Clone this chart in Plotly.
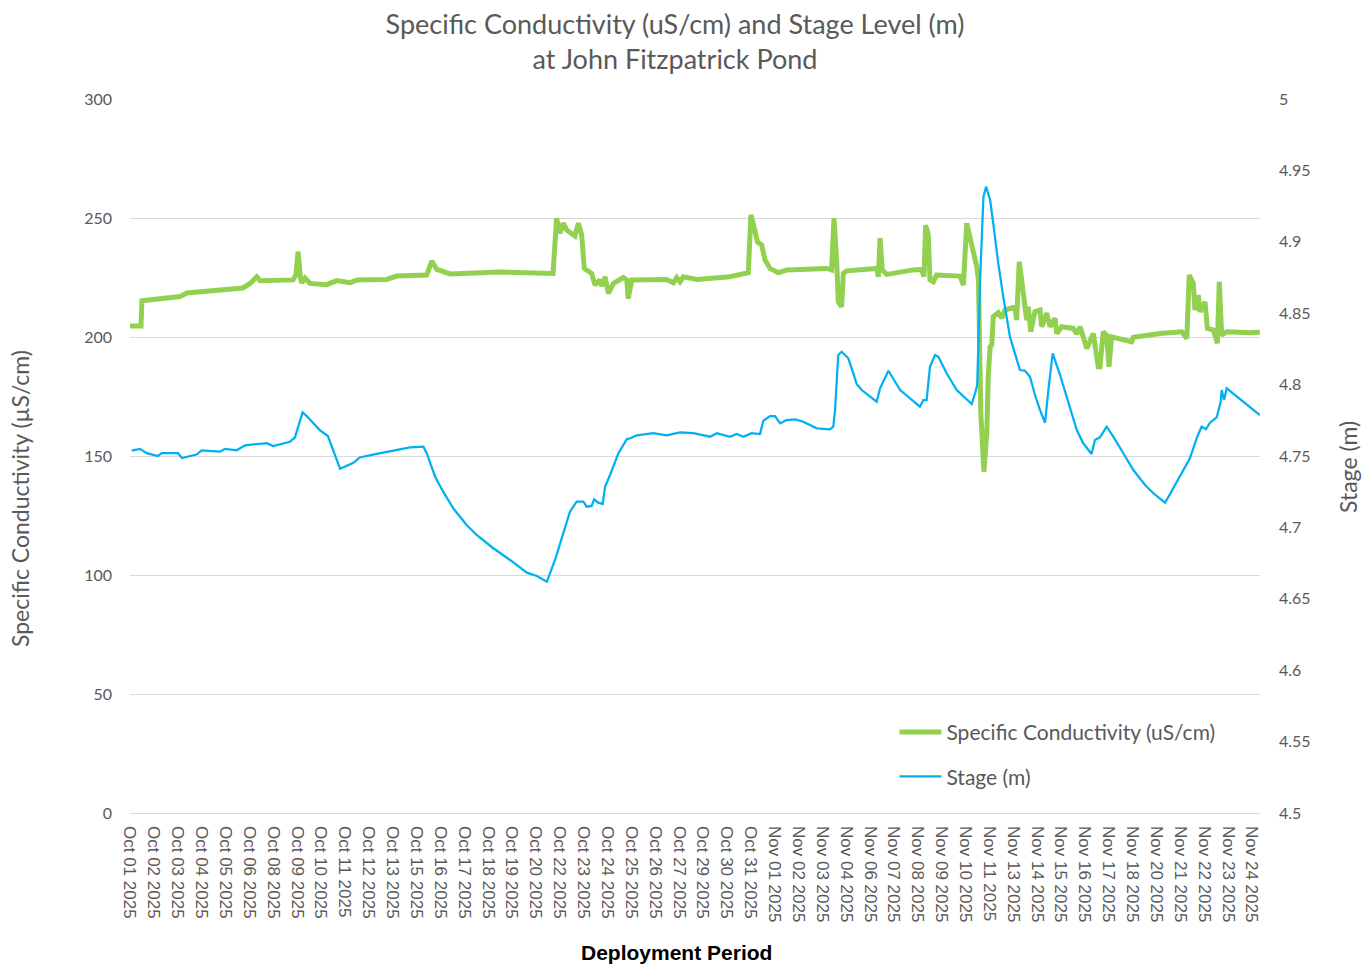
import plotly.graph_objects as go

# X tick labels (one per category tick position 0..47)
tick_labels = [
    "Oct 01 2025", "Oct 02 2025", "Oct 03 2025", "Oct 04 2025", "Oct 05 2025", "Oct 06 2025",
    "Oct 08 2025", "Oct 09 2025", "Oct 10 2025", "Oct 11 2025", "Oct 12 2025", "Oct 13 2025",
    "Oct 15 2025", "Oct 16 2025", "Oct 17 2025", "Oct 18 2025", "Oct 19 2025", "Oct 20 2025",
    "Oct 22 2025", "Oct 23 2025", "Oct 24 2025", "Oct 25 2025", "Oct 26 2025", "Oct 27 2025",
    "Oct 29 2025", "Oct 30 2025", "Oct 31 2025", "Nov 01 2025", "Nov 02 2025", "Nov 03 2025",
    "Nov 04 2025", "Nov 06 2025", "Nov 07 2025", "Nov 08 2025", "Nov 09 2025", "Nov 10 2025",
    "Nov 11 2025", "Nov 13 2025", "Nov 14 2025", "Nov 15 2025", "Nov 16 2025", "Nov 17 2025",
    "Nov 18 2025", "Nov 20 2025", "Nov 21 2025", "Nov 22 2025", "Nov 23 2025", "Nov 24 2025",
]
tick_pos = list(range(len(tick_labels)))

# Specific conductivity (uS/cm): position (in tick-label steps) and value
sc_t = [0.0, 0.46, 0.50, 1.26, 2.09, 2.38, 2.93, 4.73, 5.03, 5.31, 5.45, 6.83, 6.95, 7.04, 7.14,
        7.19, 7.33, 7.54, 8.24, 8.66, 9.22, 9.50, 10.75, 11.17, 12.43, 12.64, 12.85, 13.41, 15.50,
        17.59, 17.72, 17.87, 18.01, 18.15, 18.29, 18.64, 18.78, 18.92, 19.03, 19.34, 19.48, 19.69,
        19.76, 19.90, 20.04, 20.25, 20.66, 20.81, 20.87, 21.02, 22.48, 22.76, 22.90, 23.04, 23.18,
        23.74, 25.13, 25.90, 26.01, 26.14, 26.28, 26.46, 26.60, 26.81, 27.16, 27.51, 29.18, 29.39,
        29.49, 29.60, 29.67, 29.81, 29.88, 30.02, 31.28, 31.35, 31.42, 31.51, 31.70, 32.81, 33.16,
        33.26, 33.33, 33.44, 33.51, 33.65, 33.79, 34.77, 34.91, 35.05, 35.16, 35.26, 35.36, 35.47,
        35.54, 35.64, 35.77, 35.89, 35.95, 36.03, 36.10, 36.16, 36.37, 36.52, 36.65, 37.07, 37.14,
        37.25, 37.35, 37.49, 37.56, 37.63, 37.73, 37.91, 38.12, 38.19, 38.40, 38.54, 38.75, 38.82,
        39.03, 39.51, 39.66, 39.80, 40.08, 40.35, 40.56, 40.63, 40.77, 40.91, 41.01, 41.12, 41.47,
        41.96, 42.03, 43.15, 44.06, 44.27, 44.37, 44.54, 44.61, 44.75, 44.82, 45.03, 45.13, 45.38,
        45.55, 45.63, 45.73, 45.94, 46.92, 47.33]
sc_val = [204.6, 204.6, 215.2, 216.0, 217.0, 218.5, 219.0, 220.6, 222.5, 225.3, 223.6, 224.0, 226.0,
          235.8, 225.0, 222.7, 224.8, 222.5, 222.0, 223.7, 222.8, 224.0, 224.2, 225.6, 226.0, 231.9,
          228.4, 226.5, 227.3, 227.0, 226.7, 249.9, 243.6, 247.8, 245.0, 242.4, 247.8, 242.9, 228.8,
          226.7, 221.8, 224.0, 221.4, 225.3, 218.3, 222.5, 225.0, 224.0, 216.2, 224.0, 224.2, 222.8,
          225.0, 223.2, 225.3, 224.2, 225.3, 227.0, 251.3, 246.3, 240.0, 238.7, 232.4, 228.8, 227.0,
          228.2, 228.8, 228.2, 249.9, 232.4, 214.8, 212.7, 226.7, 227.8, 228.8, 225.3, 241.5, 228.2,
          226.3, 228.2, 228.4, 225.3, 247.0, 242.9, 224.0, 223.2, 226.0, 225.6, 221.8, 247.8, 242.9,
          240.8, 235.2, 229.5, 224.0, 168.0, 143.4, 159.5, 183.3, 195.9, 196.6, 208.5, 210.2, 207.9,
          211.3, 212.7, 207.1, 231.6, 224.0, 212.7, 207.1, 212.7, 202.2, 210.6, 211.3, 204.3, 210.0,
          204.3, 207.9, 201.5, 204.3, 203.6, 201.3, 204.3, 195.2, 201.5, 187.5, 187.5, 202.2, 200.8,
          187.5, 200.1, 199.4, 198.0, 199.9, 201.5, 202.2, 199.4, 226.0, 222.5, 211.3, 217.6, 210.6,
          214.8, 203.6, 202.9, 197.4, 223.2, 200.8, 202.2, 201.8, 202.0]

# Stage (m): position (in tick-label steps) and value
stage_t = [0.07, 0.42, 0.70, 1.17, 1.33, 2.01, 2.17, 2.79, 3.00, 3.77, 3.98, 4.47, 4.82, 5.73, 5.99,
           6.70, 6.91, 7.23, 7.46, 7.96, 8.29, 8.80, 9.34, 9.63, 10.18, 10.75, 11.73, 12.29, 12.43,
           12.78, 13.12, 13.54, 14.10, 14.52, 15.22, 15.92, 16.62, 17.04, 17.46, 17.80, 18.15, 18.43,
           18.71, 18.99, 19.13, 19.34, 19.44, 19.62, 19.80, 19.90, 20.11, 20.46, 20.81, 20.95, 21.23,
           21.92, 22.48, 23.04, 23.60, 24.30, 24.58, 25.13, 25.41, 25.69, 26.04, 26.39, 26.53, 26.81,
           27.02, 27.23, 27.51, 27.86, 28.20, 28.77, 29.32, 29.46, 29.53, 29.67, 29.81, 30.09, 30.30,
           30.44, 30.65, 31.28, 31.42, 31.77, 32.26, 32.67, 33.09, 33.23, 33.37, 33.51, 33.72, 33.86,
           34.21, 34.63, 35.05, 35.26, 35.40, 35.49, 35.61, 35.75, 35.86, 36.03, 36.16, 36.37, 36.58,
           36.86, 37.28, 37.49, 37.70, 37.91, 38.12, 38.33, 38.47, 38.65, 38.96, 39.24, 39.66, 39.93,
           40.28, 40.42, 40.63, 40.91, 41.19, 41.61, 42.03, 42.52, 42.87, 43.36, 43.85, 44.40, 44.68,
           44.89, 45.07, 45.24, 45.52, 45.69, 45.73, 45.83, 45.94, 46.64, 47.33]
stage_val = [4.7537, 4.7550, 4.7520, 4.7500, 4.7520, 4.7520, 4.7486, 4.7510, 4.7540, 4.7530, 4.7550,
             4.7540, 4.7575, 4.7590, 4.7570, 4.7600, 4.7630, 4.7806, 4.7770, 4.7680, 4.7640, 4.7410,
             4.7450, 4.7490, 4.7510, 4.7530, 4.7560, 4.7565, 4.7520, 4.7355, 4.7250, 4.7134, 4.7017,
             4.6947, 4.6854, 4.6772, 4.6683, 4.6660, 4.6620, 4.6770, 4.6959, 4.7110, 4.7180, 4.7180,
             4.7145, 4.7150, 4.7197, 4.7173, 4.7164, 4.7285, 4.7367, 4.7520, 4.7617, 4.7624, 4.7645,
             4.7660, 4.7645, 4.7666, 4.7660, 4.7635, 4.7660, 4.7635, 4.7654, 4.7635, 4.7660, 4.7654,
             4.7747, 4.7780, 4.7780, 4.7729, 4.7752, 4.7757, 4.7740, 4.7694, 4.7687, 4.7705, 4.7810,
             4.8207, 4.8230, 4.8184, 4.8079, 4.8004, 4.7962, 4.7880, 4.7974, 4.8097, 4.7962, 4.7904,
             4.7845, 4.7892, 4.7892, 4.8125, 4.8207, 4.8195, 4.8079, 4.7962, 4.7892, 4.7864, 4.7939,
             4.7997, 4.8733, 4.9316, 4.9386, 4.9293, 4.9130, 4.8850, 4.8616, 4.8335, 4.8102, 4.8097,
             4.8055, 4.7927, 4.7822, 4.7733, 4.7962, 4.8219, 4.8067, 4.7915, 4.7682, 4.7589, 4.7514,
             4.7612, 4.7631, 4.7705, 4.7635, 4.7519, 4.7402, 4.7297, 4.7239, 4.7173, 4.7320, 4.7484,
             4.7624, 4.7705, 4.7687, 4.7733, 4.7770, 4.7880, 4.7962, 4.7892, 4.7974, 4.7880, 4.7787]

left_ticks = [0, 50, 100, 150, 200, 250, 300]
right_ticks = [4.5, 4.55, 4.6, 4.65, 4.7, 4.75, 4.8, 4.85, 4.9, 4.95, 5.0]
right_tick_text = ["4.5", "4.55", "4.6", "4.65", "4.7", "4.75", "4.8", "4.85", "4.9", "4.95", "5"]

GREEN = "#92D050"
BLUE = "#00B0F0"
GREY = "#595959"
BODY_FONT = "Lato, Open Sans, sans-serif"
ARIAL = "Liberation Sans, Arial, sans-serif"

fig = go.Figure()
fig.add_trace(go.Scatter(
    x=sc_t, y=sc_val, mode="lines", name="Specific Conductivity (uS/cm)",
    line=dict(color=GREEN, width=5), legendgroup="a", yaxis="y",
))
fig.add_trace(go.Scatter(
    x=stage_t, y=stage_val, mode="lines", name="Stage (m)",
    line=dict(color=BLUE, width=2.25), legendgroup="b", yaxis="y2",
))

fig.update_layout(
    width=1362, height=965,
    margin=dict(l=130, r=102, t=99, b=152, autoexpand=False),
    paper_bgcolor="white", plot_bgcolor="white",
    font=dict(family=BODY_FONT, color=GREY, size=16),
    title=dict(
        text="Specific Conductivity (uS/cm) and Stage Level (m)<br>at John Fitzpatrick Pond",
        x=0.4956, xref="container", xanchor="center",
        y=1 - 34 / 965, yref="container", yanchor="middle",
        font=dict(family=BODY_FONT, size=27, color=GREY),
    ),
    xaxis=dict(
        range=[0, 47.335], tickmode="array", tickvals=tick_pos, ticktext=tick_labels,
        tickangle=90, showgrid=False, zeroline=False, showline=False, ticks="",
        tickfont=dict(family=ARIAL, size=17, color=GREY),
        ticklabelstandoff=12,
    ),
    yaxis=dict(
        range=[0, 300], tickmode="array", tickvals=left_ticks,
        showgrid=True, gridcolor="#D9D9D9", gridwidth=1,
        zeroline=True, zerolinecolor="#D9D9D9", zerolinewidth=1,
        showline=False, ticks="", ticklabelstandoff=17,
        tickfont=dict(family=BODY_FONT, size=16, color=GREY),
    ),
    yaxis2=dict(
        range=[4.5, 5.0], overlaying="y", side="right", tickmode="array",
        tickvals=right_ticks, ticktext=right_tick_text,
        showgrid=False, zeroline=False, showline=False, ticks="", ticklabelstandoff=18,
        tickfont=dict(family=BODY_FONT, size=16, color=GREY),
    ),
    legend=dict(
        x=0.6765, y=0.082, xanchor="left", yanchor="middle",
        bgcolor="rgba(0,0,0,0)", itemwidth=42, tracegroupgap=14,
        font=dict(family=BODY_FONT, size=21, color=GREY),
    ),
    annotations=[
        dict(text="Specific Conductivity (µS/cm)", textangle=-90, showarrow=False,
             xref="paper", yref="paper", x=-0.0973, y=0.4398, xanchor="center", yanchor="middle",
             font=dict(family=BODY_FONT, size=23, color=GREY)),
        dict(text="Stage (m)", textangle=-90, showarrow=False,
             xref="paper", yref="paper", x=1.0779, y=0.4846, xanchor="center", yanchor="middle",
             font=dict(family=BODY_FONT, size=23, color=GREY)),
        dict(text="<b>Deployment Period</b>", showarrow=False,
             xref="paper", yref="paper", x=0.4832, y=-0.196, xanchor="center", yanchor="middle",
             font=dict(family=ARIAL, size=21, color="black")),
    ],
)

fig.write_html(
    "out.html",
    config={"displayModeBar": False},
    post_script="document.body.style.margin='0';document.body.style.overflow='hidden';",
)
